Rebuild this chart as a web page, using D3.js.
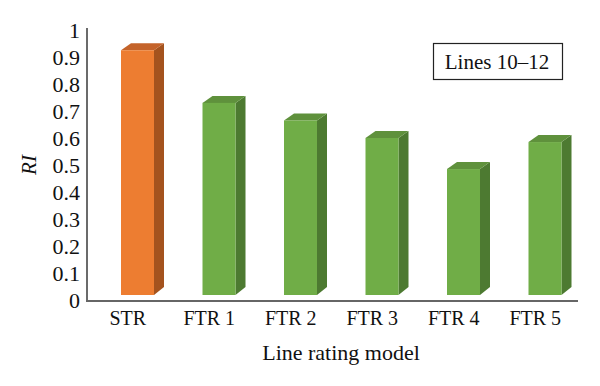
<!DOCTYPE html>
<html>
<head>
<meta charset="UTF-8">
<title>RI by line rating model</title>
<script src="https://cdn.jsdelivr.net/npm/d3@7/dist/d3.min.js"></script>
<style>
  body { margin: 0; background: #fff; }
  text { font-family: "Liberation Serif", "DejaVu Serif", serif; fill: #111; }
</style>
</head>
<body>
<script>
// data
var categories = ["STR", "FTR 1", "FTR 2", "FTR 3", "FTR 4", "FTR 5"];
var riValues = [0.925, 0.73, 0.665, 0.60, 0.485, 0.585];
var yTickValues = [0, 0.1, 0.2, 0.3, 0.4, 0.5, 0.6, 0.7, 0.8, 0.9, 1];
var yTickLabels = ["0", "0.1", "0.2", "0.3", "0.4", "0.5", "0.6", "0.7", "0.8", "0.9", "1"];

var width = 600, height = 386;
var svg = d3.select("body").append("svg")
  .attr("width", width)
  .attr("height", height);

var x = d3.scaleBand().domain(categories).range([87, 576]).padding(0);
var y = d3.scaleLinear().domain([0, 1]).range([300, 30]);

// 3d look: front face, right side, top
var frontOffset = 34, frontW = 33, depthX = 10, depthY = 7, floorLift = 5;
var colours = [
  { front: "#ED7D31", side: "#A4531E", top: "#C4632A" },
  { front: "#70AD47", side: "#4D7A31", top: "#5F913C" }
];

var bars = svg.selectAll("g.bar")
  .data(riValues)
  .enter().append("g")
  .attr("class", "bar");

function colourOf(i) { return i === 0 ? colours[0] : colours[1]; }

// side face
bars.append("path")
  .attr("fill", function(d, i) { return colourOf(i).side; })
  .attr("d", function(d, i) {
    var x1 = x(categories[i]) + frontOffset + frontW;
    var yt = y(d), yb = y(0) - floorLift;
    return "M" + x1 + "," + yt + "L" + (x1 + depthX) + "," + (yt - depthY) +
      "L" + (x1 + depthX) + "," + (yb - depthY - 1) + "L" + x1 + "," + yb + "Z";
  });

// top face
bars.append("path")
  .attr("fill", function(d, i) { return colourOf(i).top; })
  .attr("d", function(d, i) {
    var x0 = x(categories[i]) + frontOffset, x1 = x0 + frontW;
    var yt = y(d);
    return "M" + x0 + "," + yt + "L" + x1 + "," + yt +
      "L" + (x1 + depthX) + "," + (yt - depthY) + "L" + (x0 + depthX) + "," + (yt - depthY) + "Z";
  });

// front face
bars.append("rect")
  .attr("fill", function(d, i) { return colourOf(i).front; })
  .attr("x", function(d, i) { return x(categories[i]) + frontOffset; })
  .attr("y", function(d) { return y(d); })
  .attr("width", frontW)
  .attr("height", function(d) { return y(0) - floorLift - y(d); });

// y axis
var yAxis = svg.append("g")
  .attr("transform", "translate(87,0)")
  .call(d3.axisLeft(y).tickValues(yTickValues).tickSize(0).tickPadding(7)
    .tickFormat(function(d, i) { return yTickLabels[i]; }));
yAxis.select(".domain").attr("stroke", "#3a3a3a").attr("stroke-width", 1.5)
  .attr("d", "M0,28V301");
yAxis.selectAll("text")
  .attr("font-size", "22px")
  .attr("font-family", "Liberation Serif, serif")
  .attr("fill", "#111");

// x axis
var xAxis = svg.append("g")
  .attr("transform", "translate(0,301)")
  .call(d3.axisBottom(x).tickSize(0).tickPadding(10));
xAxis.select(".domain").attr("stroke", "#666").attr("stroke-width", 1.8)
  .attr("d", "M86,0H578");
xAxis.selectAll("text")
  .attr("font-size", "20px")
  .attr("font-family", "Liberation Serif, serif")
  .attr("fill", "#111");

// axis titles
svg.append("text")
  .attr("x", 341)
  .attr("y", 360)
  .attr("text-anchor", "middle")
  .attr("font-size", "22px")
  .text("Line rating model");

svg.append("text")
  .attr("transform", "translate(36,165) rotate(-90)")
  .attr("text-anchor", "middle")
  .attr("font-size", "21px")
  .attr("font-style", "italic")
  .text("RI");

// legend box
svg.append("rect")
  .attr("x", 433.5)
  .attr("y", 43.5)
  .attr("width", 129)
  .attr("height", 36)
  .attr("fill", "#fff")
  .attr("stroke", "#222")
  .attr("stroke-width", 1.2);
svg.append("text")
  .attr("x", 497)
  .attr("y", 69)
  .attr("text-anchor", "middle")
  .attr("font-size", "21px")
  .text("Lines 10–12");
</script>
</body>
</html>
